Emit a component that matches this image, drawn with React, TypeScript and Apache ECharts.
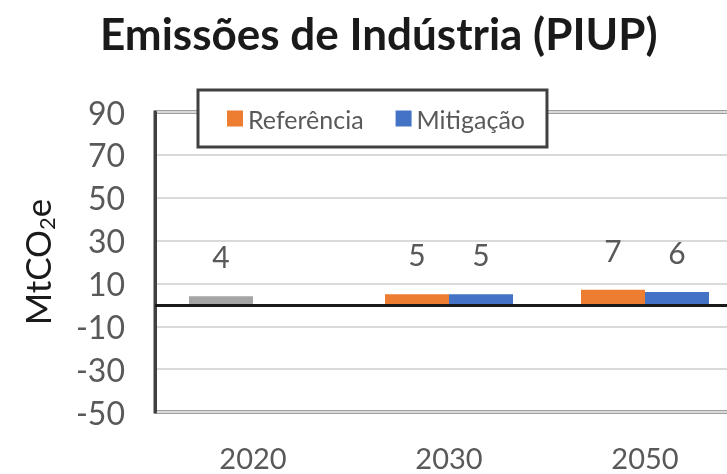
import React, { useEffect, useRef } from "react";
import * as echarts from "echarts";

const categories = ["2020", "2030", "2050"];
const refValues = [4, 5, 7];
const mitValues: (number | null)[] = [null, 5, 6];
const seriesNames = ["Referência", "Mitigação"];
const yTicks = { min: -50, max: 90, interval: 20 };
const titleText = "Emissões de Indústria (PIUP)";

const FONT = "Lato";

export default function App() {
  const ref = useRef<HTMLDivElement>(null);
  useEffect(() => {
    if (!ref.current) return;
    const chart = echarts.init(ref.current, null, { renderer: "svg" });
    const refData = refValues.map((v, i) =>
      i === 0 ? { value: v, itemStyle: { color: "#a5a5a5" } } : v
    );
    const mitData = mitValues.map((v) => (v === null ? "-" : v));
    const label = {
      show: true,
      position: "top",
      distance: 25,
      fontSize: 30,
      color: "#595959",
      fontFamily: FONT,
    };
    chart.setOption({
      animation: false,
      textStyle: { fontFamily: FONT },
      title: {
        text: titleText,
        left: 95,
        top: 6,
        textStyle: { fontSize: 44, fontWeight: "bold", color: "#1a1a1a", fontFamily: FONT },
      },
      legend: {
        data: seriesNames,
        left: 198,
        top: 90,
        icon: "rect",
        itemWidth: 16,
        itemHeight: 16,
        itemGap: 32,
        padding: [16, 22, 16, 29],
        borderColor: "#404040",
        borderWidth: 3,
        backgroundColor: "#ffffff",
        textStyle: { fontSize: 25, color: "#595959", fontFamily: FONT },
      },
      grid: {
        left: 155,
        top: 112,
        right: -16,
        bottom: 62,
        outerBoundsMode: "none",
        show: true,
        borderColor: "#404040",
        borderWidth: 3,
      },
      xAxis: {
        type: "category",
        data: categories,
        axisLine: { show: false, onZero: false },
        axisTick: { show: false },
        axisLabel: { fontSize: 29, lineHeight: 30, color: "#595959", margin: 30, fontFamily: FONT },
        splitLine: { show: false },
      },
      yAxis: {
        type: "value",
        min: yTicks.min,
        max: yTicks.max,
        interval: yTicks.interval,
        name: "{a|MtCO}{b|2}{a|e}",
        nameLocation: "middle",
        nameGap: 98,
        nameTextStyle: {
          rich: {
            a: { fontSize: 35, color: "#1a1a1a", fontFamily: FONT, lineHeight: 40, verticalAlign: "middle" },
            b: { fontSize: 22, color: "#1a1a1a", fontFamily: FONT, lineHeight: 40, verticalAlign: "bottom" },
          },
        },
        axisLine: { show: true, lineStyle: { color: "#404040", width: 3 } },
        axisTick: { show: false },
        axisLabel: { fontSize: 32, color: "#595959", margin: 30, fontFamily: FONT },
        splitLine: { show: true, lineStyle: { color: "#d9d9d9", width: 2 } },
      },
      series: [
        {
          name: seriesNames[0],
          type: "bar",
          data: refData,
          barWidth: 64,
          barGap: "0%",
          itemStyle: { color: "#ed7d31" },
          label,
        },
        {
          name: seriesNames[1],
          type: "bar",
          data: mitData,
          barWidth: 64,
          barGap: "0%",
          itemStyle: { color: "#4472c4" },
          label,
          markLine: {
            symbol: ["none", "none"],
            silent: true,
            label: { show: false },
            lineStyle: { color: "#1a1a1a", width: 3, type: "solid" },
            data: [{ yAxis: 0 }],
          },
        },
      ],
    });
    return () => chart.dispose();
  }, []);
  return (
    <div
      ref={ref}
      style={{ position: "fixed", left: 0, top: 0, width: 727, height: 474 }}
    />
  );
}
